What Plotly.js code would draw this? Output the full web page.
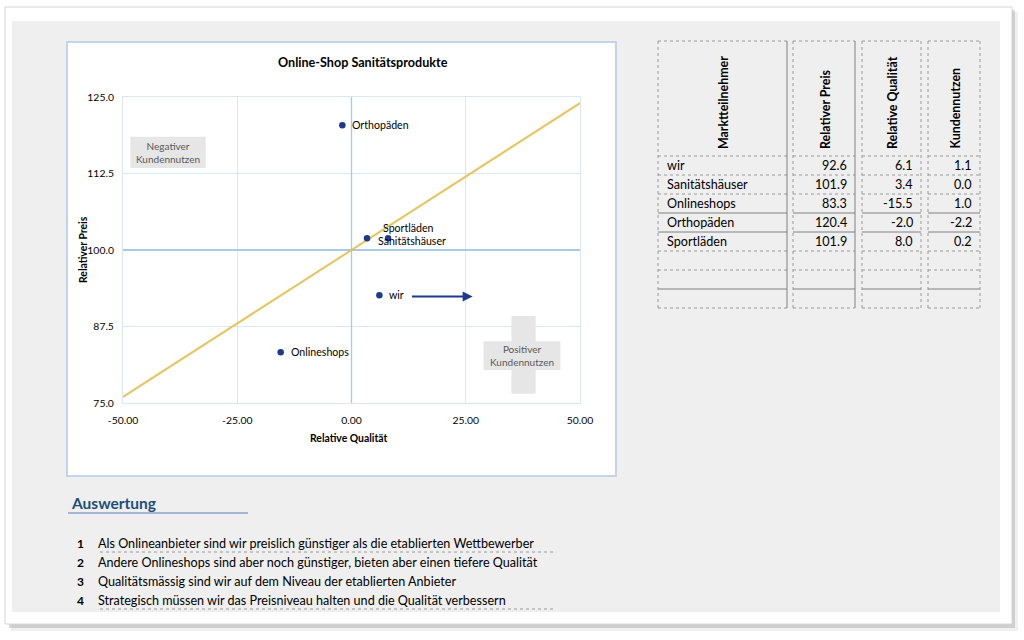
<!DOCTYPE html>
<html><head><meta charset="utf-8">
<script src="https://cdn.plot.ly/plotly-3.0.1.min.js"></script>
<style>html,body{margin:0;padding:0;background:#fff;} #chart{width:1024px;height:640px;}</style>
</head><body><div id="chart"></div>
<script>
// ---------- data ----------
const participants = ['wir', 'Sanitätshäuser', 'Onlineshops', 'Orthopäden', 'Sportläden'];
const relPreis = [92.6, 101.9, 83.3, 120.4, 101.9];
const relQualitaet = [6.1, 3.4, -15.5, -2.0, 8.0];
const kundennutzen = [1.1, 0.0, 1.0, -2.2, 0.2];
const tableHeaders = ['Marktteilnehmer', 'Relativer Preis', 'Relative Qualität', 'Kundennutzen'];
const xTickVals = [-50, -25, 0, 25, 50];
const xTickText = ['-50.00', '-25.00', '0.00', '25.00', '50.00'];
const yTickVals = [75, 87.5, 100, 112.5, 125];
const yTickText = ['75.0', '87.5', '100.0', '112.5', '125.0'];
const lineQ = [-50, 50];
const lineP = [76, 124];
const arrowFrom = [12.9, 92.4];
const arrowTo = [26.5, 92.4];
const findings = [
  'Als Onlineanbieter sind wir preislich günstiger als die etablierten Wettbewerber',
  'Andere Onlineshops sind aber noch günstiger, bieten aber einen tiefere Qualität',
  'Qualitätsmässig sind wir auf dem Niveau der etablierten Anbieter',
  'Strategisch müssen wir das Preisniveau halten und die Qualität verbessern'
];

// ---------- layout helpers ----------
const W = 1024, H = 640;
const px = x => x / W;
const py = y => 1 - y / H;
const FONT = 'Lato, "Open Sans", sans-serif';

const shapes = [];
const annotations = [];

function rectP(x0, y0, x1, y1, fill, line, layer) {
  shapes.push({type: 'rect', xref: 'paper', yref: 'paper', x0: px(x0), x1: px(x1), y0: py(y1), y1: py(y0),
    fillcolor: fill, line: line || {width: 0}, layer: layer || 'below'});
}
function lineSeg(x0, y0, x1, y1, color, width, dash) {
  shapes.push({type: 'line', xref: 'paper', yref: 'paper', x0: px(x0), x1: px(x1), y0: py(y0), y1: py(y1),
    line: {color: color, width: width, dash: dash || 'solid'}, layer: 'above'});
}
function textP(x, y, text, opts) {
  annotations.push(Object.assign({xref: 'paper', yref: 'paper', x: px(x), y: py(y), text: text, showarrow: false,
    xanchor: 'center', yanchor: 'middle', font: {family: FONT, size: 11, color: '#000'}}, opts || {}));
}

// page frame with shadow
rectP(11, 12, 1018, 631, 'rgba(0,0,0,0.06)');
rectP(9, 10, 1015, 628, 'rgba(0,0,0,0.14)');
rectP(5, 7, 1012, 624, '#ffffff', {color: '#d4d4d4', width: 1});
rectP(12, 21, 1000, 612, '#efefef');
// chart box
rectP(67, 42, 616, 476, '#ffffff', {color: '#c3d4e8', width: 2});

// chart titles
textP(363, 62, '<b>Online-Shop Sanitätsprodukte</b>', {font: {family: FONT, size: 12.6, color: '#000'}});
textP(348, 438, '<b>Relative Qualität</b>', {font: {family: FONT, size: 10.4, color: '#000'}});
textP(83, 250, '<b>Relativer Preis</b>', {textangle: -90, font: {family: FONT, size: 10.4, color: '#000'}});

// value-map boxes (data coords)
const boxFill = '#e6e6e6';
shapes.push({type: 'rect', xref: 'x', yref: 'y', x0: -48.4, x1: -31.9, y0: 113.4, y1: 118.5, fillcolor: boxFill, line: {width: 0}, layer: 'between'});
shapes.push({type: 'rect', xref: 'x', yref: 'y', x0: 35.0, x1: 40.3, y0: 76.5, y1: 89.2, fillcolor: boxFill, line: {width: 0}, layer: 'between'});
shapes.push({type: 'rect', xref: 'x', yref: 'y', x0: 28.9, x1: 45.7, y0: 80.4, y1: 85.1, fillcolor: boxFill, line: {width: 0}, layer: 'between'});
annotations.push({xref: 'x', yref: 'y', x: -40.15, y: 115.95, text: 'Negativer<br>Kundennutzen', showarrow: false,
  font: {family: FONT, size: 10, color: '#595959'}});
annotations.push({xref: 'x', yref: 'y', x: 37.3, y: 82.75, text: 'Positiver<br>Kundennutzen', showarrow: false,
  font: {family: FONT, size: 10, color: '#595959'}});
// axis crossing lines
shapes.push({type: 'line', xref: 'x', yref: 'y', x0: 0, x1: 0, y0: 75, y1: 125, line: {color: '#a9cbe9', width: 1.3}, layer: 'between'});
shapes.push({type: 'line', xref: 'x', yref: 'y', x0: -50, x1: 50, y0: 100, y1: 100, line: {color: '#a9cbe9', width: 2}, layer: 'between'});
// arrow
annotations.push({xref: 'x', yref: 'y', axref: 'x', ayref: 'y', x: arrowTo[0], y: arrowTo[1], ax: arrowFrom[0], ay: arrowFrom[1],
  text: '', showarrow: true, arrowhead: 2, arrowsize: 1, arrowwidth: 2, arrowcolor: '#1f3a8a'});

// point labels (offsets are pure styling)
const labelShift = {'Sportläden': {x: -7, y: 10}, 'Sanitätshäuser': {x: 9, y: -3}};
participants.forEach((name, i) => {
  const s = labelShift[name] || {x: 8, y: 0};
  annotations.push({xref: 'x', yref: 'y', x: relQualitaet[i], y: relPreis[i], text: name, showarrow: false,
    xanchor: 'left', yanchor: 'middle', xshift: s.x, yshift: s.y,
    font: {family: FONT, size: 10.6, color: '#000'}});
});

// ---------- table ----------
const colEdges = [[658, 787], [793, 855], [862, 921], [928, 980]];
const headTop = 41, headBottom = 156, rowH = 19, nRows = 8;
const tblBottom = headBottom + nRows * rowH;
const dotC = '#9a9a9a', solidC = '#808080';
const solidRows = [3, 4, 7];
colEdges.forEach((c, ci) => {
  lineSeg(c[0], headTop, c[1], headTop, dotC, 1, 'dot');
  lineSeg(c[0], headBottom, c[1], headBottom, dotC, 1, 'dot');
  for (let r = 1; r <= nRows; r++) {
    const y = headBottom + r * rowH;
    const solid = solidRows.includes(r);
    lineSeg(c[0], y, c[1], y, solid ? solidC : dotC, 1, solid ? 'solid' : 'dot');
  }
  lineSeg(c[0], headTop, c[0], tblBottom, dotC, 1, 'dot');
  lineSeg(c[1], headTop, c[1], tblBottom, ci < 2 ? solidC : dotC, 1, ci < 2 ? 'solid' : 'dot');
  textP((c[0] + c[1]) / 2 + 1, headBottom - 5, '<b>' + tableHeaders[ci] + '</b>',
    {textangle: -90, yanchor: 'bottom', font: {family: FONT, size: 12.4, color: '#000'}});
});
const tableCols = [participants, relPreis, relQualitaet, kundennutzen];
tableCols.forEach((vals, ci) => {
  vals.forEach((v, ri) => {
    const y = headBottom + (ri + 0.5) * rowH;
    if (ci === 0) {
      textP(colEdges[0][0] + 7, y, v, {xanchor: 'left', font: {family: FONT, size: 12.6, color: '#000'}});
    } else {
      textP(colEdges[ci][1] - 6, y, v.toFixed(1), {xanchor: 'right', font: {family: FONT, size: 12.6, color: '#000'}});
    }
  });
});

// ---------- Auswertung ----------
textP(69, 503, '<b>Auswertung</b>', {xanchor: 'left', font: {family: FONT, size: 15.5, color: '#1f4e79'}});
lineSeg(68, 513, 248, 513, '#5b7fb5', 1);
findings.forEach((t, i) => {
  const y = 543 + i * 19;
  textP(80, y, '<b>' + String(i + 1) + '</b>', {font: {family: FONT, size: 12, color: '#000'}});
  textP(96, y, t, {xanchor: 'left', font: {family: FONT, size: 12.6, color: '#000'}});
});
lineSeg(100, 552, 556, 552, '#9a9a9a', 1, 'dot');
lineSeg(100, 609, 556, 609, '#9a9a9a', 1, 'dot');

// ---------- traces ----------
const traces = [
  {x: lineQ, y: lineP, mode: 'lines', line: {color: 'rgba(190,170,110,0.25)', width: 3}, hoverinfo: 'skip'},
  {x: lineQ, y: lineP, mode: 'lines', line: {color: '#e8c040', width: 1.4}, hoverinfo: 'skip'},
  {x: relQualitaet, y: relPreis, mode: 'markers', marker: {color: '#1f3a8a', size: 6.5}, cliponaxis: false}
];

const axisCommon = {showgrid: true, gridcolor: '#d9e6f3', gridwidth: 1, showline: true, mirror: true,
  linecolor: '#d9e6f3', linewidth: 1, zeroline: false, ticks: '', fixedrange: true,
  tickfont: {family: FONT, size: 10.4, color: '#000'}};

const layout = {
  width: W, height: H, margin: {l: 0, r: 0, t: 0, b: 0},
  paper_bgcolor: '#ffffff', plot_bgcolor: 'rgba(0,0,0,0)', showlegend: false,
  xaxis: Object.assign({}, axisCommon, {range: [-50, 50], tickvals: xTickVals, ticktext: xTickText,
    domain: [px(123), px(580)], ticklabelstandoff: 8}),
  yaxis: Object.assign({}, axisCommon, {range: [75, 125], tickvals: yTickVals, ticktext: yTickText,
    domain: [py(403), py(97)], ticklabelstandoff: 6}),
  shapes: shapes, annotations: annotations
};

Plotly.newPlot('chart', traces, layout, {displayModeBar: false, staticPlot: true});
</script></body></html>
